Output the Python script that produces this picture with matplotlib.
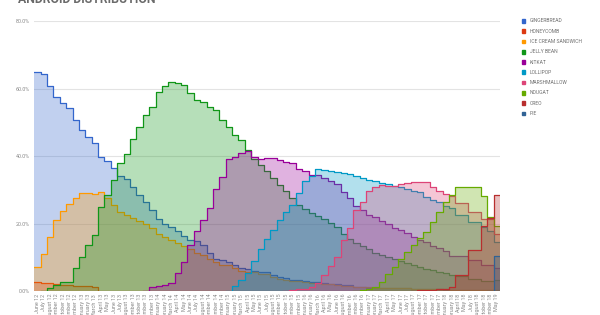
import numpy as np
import matplotlib
matplotlib.use("Agg")
import matplotlib.pyplot as plt
from matplotlib.patches import Rectangle

plt.rcParams['font.family'] = ['Roboto', 'DejaVu Sans']

# categories (months that have a data release)
months = [
    "June 12", "July 12", "August 12", "September 12", "October 12", "November 12", "December 12",
    "January 13", "February 13", "March 13", "April 13", "May 13", "June 13", "July 13",
    "August 13", "September 13", "October 13", "November 13", "December 13",
    "January 14", "February 14", "March 14", "April 14", "May 14", "June 14", "July 14",
    "August 14", "September 14", "November 14", "December 14",
    "January 15", "February 15", "March 15", "April 15", "May 15", "June 15", "July 15",
    "August 15", "September 15", "October 15", "November 15", "December 15",
    "January 16", "February 16", "March 16", "April 16", "May 16", "June 16",
    "August 16", "September 16", "November 16", "December 16",
    "January 17", "February 17", "March 17", "April 17", "May 17", "June 17", "July 17",
    "August 17", "September 17", "October 17", "November 17", "December 17",
    "January 18", "February 18", "April 18", "May 18", "July 18", "August 18",
    "October 18", "November 18", "May 19",
]

gingerbread = [65.0, 64.4, 60.6, 57.5, 55.8, 54.2, 50.8, 47.6, 45.6, 43.9,
               39.8, 38.5, 36.4, 34.1, 33.1, 30.7, 28.5, 26.3, 24.1, 21.2,
               20.0, 19.0, 17.8, 16.2, 15.0, 14.9, 13.6, 11.4, 9.6, 9.1,
               8.6, 7.8, 6.9, 6.4, 6.0, 5.6, 5.6, 4.6, 4.1, 3.8,
               3.4, 3.4, 3.0, 2.7, 2.6, 2.4, 2.1, 2.0, 1.7, 1.7,
               1.3, 1.2, 1.0, 1.0, 1.0, 1.0, 1.0, 0.9, 0.8, 0.7,
               0.6, 0.6, 0.6, 0.5, 0.4, 0.3, 0.3, 0.3, 0.2, 0.2,
               0.3, 0.3, 0.3]

honeycomb = [2.6, 2.4, 2.4, 2.1, 1.9, 1.8, 1.6, 1.5, 1.4, 1.2,
             0.1, 0.1, 0.1, 0.1, 0.1] + [0.0] * 58

ice_cream = [7.1, 10.9, 15.9, 20.9, 23.7, 25.8, 27.5, 29.1, 29.0, 28.6,
             29.3, 27.5, 25.6, 23.3, 22.5, 21.7, 20.6, 19.8, 18.6, 16.9,
             16.1, 15.2, 14.3, 13.4, 12.3, 11.4, 10.6, 9.6, 8.5, 7.8,
             7.8, 6.7, 5.9, 5.7, 5.7, 5.1, 5.1, 4.1, 3.7, 3.3,
             2.9, 2.9, 2.7, 2.5, 2.3, 2.2, 2.0, 1.9, 1.6, 1.6,
             1.3, 1.2, 1.1, 1.0, 1.0, 0.9, 0.8, 0.9, 0.8, 0.7,
             0.6, 0.6, 0.6, 0.5, 0.5, 0.4, 0.4, 0.4, 0.3, 0.3,
             0.3, 0.3, 0.3]

jelly_bean = [None, None, 0.8, 1.8, 2.7, 2.7, 6.7, 10.2, 13.6, 16.5,
              25.0, 28.4, 33.0, 37.9, 40.5, 45.1, 48.6, 52.1, 54.5, 59.1,
              60.7, 62.0, 61.5, 61.0, 58.6, 56.6, 56.0, 54.5, 53.6, 50.7,
              48.7, 46.2, 44.6, 41.8, 39.2, 37.4, 35.6, 33.6, 31.5, 29.6,
              27.5, 25.5, 24.2, 23.2, 22.3, 21.3, 20.1, 18.9, 16.8, 15.4,
              14.3, 13.3, 12.3, 11.3, 10.7, 10.1, 9.5, 8.9, 8.2, 7.7,
              7.2, 6.6, 6.1, 5.6, 5.2, 4.8, 4.3, 4.3, 3.5, 3.5,
              3.0, 3.0, 3.2]

kitkat = [None] * 18 + [1.1, 1.4,
          1.8, 2.5, 5.3, 8.5, 13.6, 17.9, 20.9, 24.5, 30.2, 33.9,
          39.1, 39.7, 40.9, 41.4, 39.8, 39.2, 39.3, 39.3, 38.9, 38.2,
          37.8, 36.1, 35.5, 34.3, 34.3, 33.4, 32.5, 31.6, 29.2, 27.7,
          25.2, 24.0, 22.6, 21.9, 20.8, 20.0, 18.8, 18.0, 17.1, 16.0,
          15.1, 14.5, 13.4, 12.8, 12.0, 10.5, 10.3, 10.3, 9.1, 9.1,
          7.6, 7.6, 6.9]

lollipop = [None] * 31 + [1.6, 3.3, 5.4, 9.0, 12.4, 15.5, 18.1, 21.0, 23.5,
            25.6, 29.0, 32.6, 34.1, 36.1, 35.8, 35.6, 35.4, 35.0, 34.8,
            34.1, 33.4, 32.9, 32.5, 32.0, 31.8, 31.2, 30.8, 30.1, 29.7,
            29.2, 28.0, 27.0, 26.3, 25.1, 24.6, 22.4, 22.4, 20.4, 20.4,
            19.0, 17.9, 14.5]

marshmallow = [None] * 40 + [0.3, 0.5, 0.7, 1.2, 2.3, 4.6, 7.5, 10.1, 15.2, 18.7,
               24.0, 26.3, 29.6, 30.7, 31.3, 31.2, 31.2, 31.8, 32.0, 32.3,
               32.3, 32.2, 30.9, 29.7, 28.6, 28.1, 26.0, 26.0, 23.5, 23.5,
               21.3, 21.3, 16.9]

nougat = [None] * 51 + [0.4, 0.7, 1.2, 2.8, 4.9, 7.1, 9.5, 11.5, 13.5,
          15.8, 17.6, 20.3, 23.3, 26.3, 28.5, 30.8, 30.8, 30.8, 30.8,
          28.2, 22.0, 19.2]

oreo = [None] * 60 + [0.2, 0.3, 0.3, 0.5, 0.7, 1.1, 4.6, 4.6, 12.1, 12.1,
        19.2, 21.5, 28.3]

pie = [None] * 72 + [10.4]

names = ["GINGERBREAD", "HONEYCOMB", "ICE CREAM SANDWICH", "JELLY BEAN", "KITKAT",
         "LOLLIPOP", "MARSHMALLOW", "NOUGAT", "OREO", "PIE"]
series = [gingerbread, honeycomb, ice_cream, jelly_bean, kitkat,
          lollipop, marshmallow, nougat, oreo, pie]
colors = ["#3366cc", "#dc3912", "#ff9900", "#109618", "#990099",
          "#0099c6", "#dd4477", "#66aa00", "#b82e2e", "#316395"]

W, H = 600, 315
fig = plt.figure(figsize=(W / 100, H / 100), dpi=100)
ax = fig.add_axes([34.3 / W, 1 - 291 / H, (500 - 34.3) / W, 270 / H])

n = len(months)
edges = np.arange(n + 1)
for k, (vals, col) in enumerate(zip(series, colors)):
    y = np.array([np.nan if v is None else v for v in vals], dtype=float)
    first = np.argmax(~np.isnan(y))
    if first > 0:
        y[first - 1] = 0.0
    yy = np.append(y, y[-1])
    ax.fill_between(edges, yy, step='post', color=col, alpha=0.3, lw=0, zorder=2 + k)
    ax.step(edges, yy, where='post', color=col, lw=0.9, zorder=2 + k)

ax.set_xlim(0, n)
ax.set_ylim(0, 80)
ax.set_yticks([0, 20, 40, 60, 80])
ax.set_yticklabels([f"{v:.1f}%" for v in [0, 20, 40, 60, 80]])
ax.set_xticks(np.arange(n) + 0.5)
ax.set_xticklabels(months, rotation=90, va='top', ha='center')
ax.tick_params(axis='both', length=0, labelsize=3.9, colors='#8a8a8a')
ax.tick_params(axis='x', pad=2)
ax.tick_params(axis='y', pad=3)
ax.yaxis.grid(True, color='#e3e3e3', lw=0.8, zorder=0)
ax.set_axisbelow(True)
for s in ax.spines.values():
    s.set_visible(False)

fig.text(18 / W, 1 - 3.3 / H, "ANDROID DISTRIBUTION", fontsize=8.8, fontweight='bold',
         color='#6b6b6b', va='baseline', ha='left')

# legend
for i, (name, col) in enumerate(zip(names, colors)):
    yc = 21 + 10.26 * i
    fig.patches.append(Rectangle((521.7 / W, 1 - (yc + 1.8) / H), 3.6 / W, 3.6 / H,
                                 transform=fig.transFigure, color=col, figure=fig))
    fig.text(530 / W, 1 - yc / H, name, fontsize=3.6, color='#707070',
             va='center', ha='left')

fig.savefig("out.png", dpi=100)
